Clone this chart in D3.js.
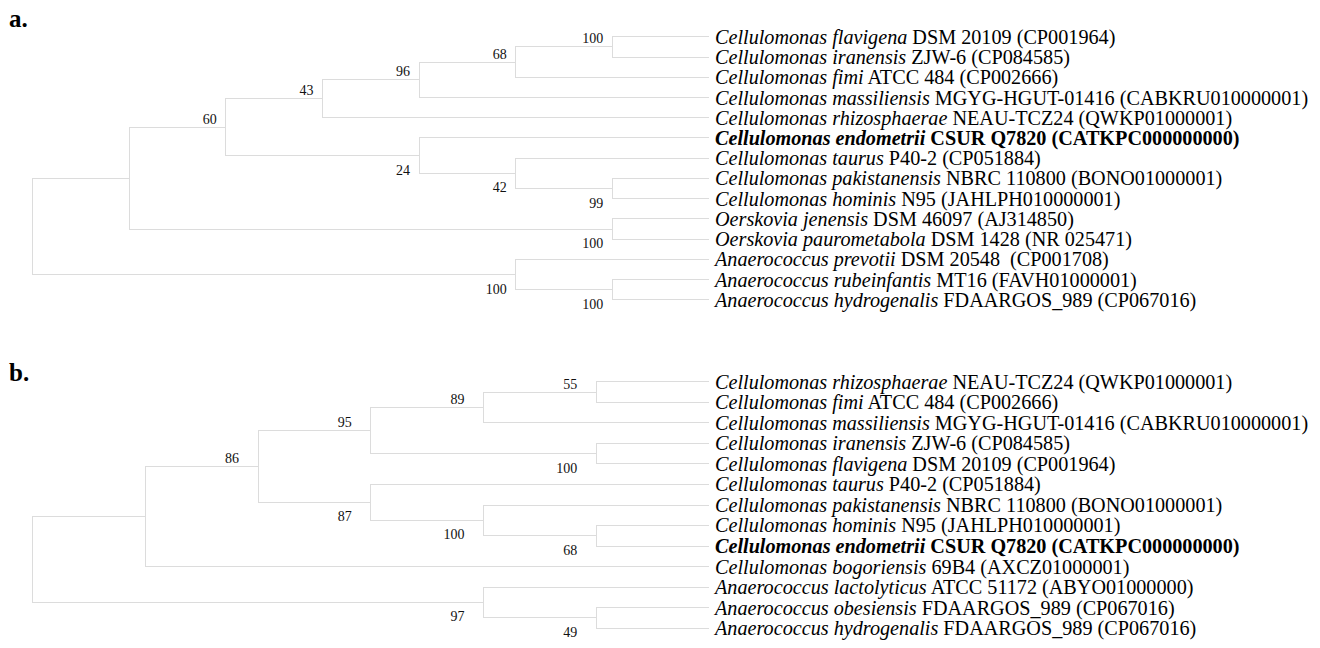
<!DOCTYPE html>
<html>
<head>
  <meta charset="utf-8">
  <script src="https://cdn.jsdelivr.net/npm/d3@7"></script>
  <style>
    body { margin: 0; background: #fff; }
    text { font-family: "Liberation Serif", "Times New Roman", serif; white-space: pre; }
  </style>
</head>
<body>
  <div id="chart"></div>
  <script>

  // topology of each tree as newick, leaves are indices into the label arrays,
  // numbers after ")" are bootstrap values
  var newickA = "(((((((0,1)100,2)68,3)96,4)43,(5,(6,(7,8)99)42)24)60,(9,10)100),(11,(12,13)100)100)"
  var newickB = "((((((0,1)55,2)89,(3,4)100)95,(5,(6,(7,8)68)100)87)86,9),(10,(11,12)49)97)"

  var speciesA = ["Cellulomonas flavigena", "Cellulomonas iranensis", "Cellulomonas fimi",
    "Cellulomonas massiliensis", "Cellulomonas rhizosphaerae", "Cellulomonas endometrii",
    "Cellulomonas taurus", "Cellulomonas pakistanensis", "Cellulomonas hominis",
    "Oerskovia jenensis", "Oerskovia paurometabola", "Anaerococcus prevotii",
    "Anaerococcus rubeinfantis", "Anaerococcus hydrogenalis"]
  var strainsA = [" DSM 20109 (CP001964)", " ZJW-6 (CP084585)", " ATCC 484 (CP002666)",
    " MGYG-HGUT-01416 (CABKRU010000001)", " NEAU-TCZ24 (QWKP01000001)", " CSUR Q7820 (CATKPC000000000)",
    " P40-2 (CP051884)", " NBRC 110800 (BONO01000001)", " N95 (JAHLPH010000001)",
    " DSM 46097 (AJ314850)", " DSM 1428 (NR 025471)", " DSM 20548  (CP001708)",
    " MT16 (FAVH01000001)", " FDAARGOS_989 (CP067016)"]

  var speciesB = ["Cellulomonas rhizosphaerae", "Cellulomonas fimi", "Cellulomonas massiliensis",
    "Cellulomonas iranensis", "Cellulomonas flavigena", "Cellulomonas taurus",
    "Cellulomonas pakistanensis", "Cellulomonas hominis", "Cellulomonas endometrii",
    "Cellulomonas bogoriensis", "Anaerococcus lactolyticus", "Anaerococcus obesiensis",
    "Anaerococcus hydrogenalis"]
  var strainsB = [" NEAU-TCZ24 (QWKP01000001)", " ATCC 484 (CP002666)", " MGYG-HGUT-01416 (CABKRU010000001)",
    " ZJW-6 (CP084585)", " DSM 20109 (CP001964)", " P40-2 (CP051884)",
    " NBRC 110800 (BONO01000001)", " N95 (JAHLPH010000001)", " CSUR Q7820 (CATKPC000000000)",
    " 69B4 (AXCZ01000001)", " ATCC 51172 (ABYO01000000)", " FDAARGOS_989 (CP067016)",
    " FDAARGOS_989 (CP067016)"]

  // the new species is set in bold
  var highlight = "Cellulomonas endometrii"

  var W = 1320, H = 648

  var svg = d3.select("#chart").append("svg")
    .attr("width", W)
    .attr("height", H)

  function parseNewick(s) {
    var i = 0
    function node() {
      var n = {}
      if (s[i] === "(") {
        i++
        n.children = [node()]
        while (s[i] === ",") { i++; n.children.push(node()) }
        i++ // ")"
      }
      var tok = ""
      while (i < s.length && ",()".indexOf(s[i]) < 0) tok += s[i++]
      if (n.children) { if (tok) n.support = tok }
      else n.leaf = +tok
      return n
    }
    return node()
  }

  function drawTree(opt) {
    var root = d3.hierarchy(parseNewick(opt.newick))
    d3.cluster()
      .size([opt.bottom - opt.top, opt.tipX - opt.rootX])
      .separation(function() { return 1 })(root)

    var g = svg.append("g")
      .attr("transform", "translate(" + opt.rootX + "," + opt.top + ")")

    // elbow branches
    g.selectAll("path.branch")
      .data(root.descendants().filter(function(d) { return d.parent }))
      .enter().append("path")
      .attr("class", "branch")
      .attr("d", function(d) {
        return "M" + d.parent.y + "," + d.parent.x + "V" + d.x + "H" + d.y
      })
      .attr("fill", "none")
      .attr("stroke", "#dcdcdc")
      .attr("stroke-width", 1)
      .attr("shape-rendering", "crispEdges")

    // bootstrap values: above the branch for an upper child, below for a lower one
    g.selectAll("text.boot")
      .data(root.descendants().filter(function(d) { return d.data.support }))
      .enter().append("text")
      .attr("class", "boot")
      .attr("x", function(d) { return d.y - opt.bootGap })
      .attr("y", function(d) {
        var upper = d.parent.children[0] === d
        return upper ? d.x - 3.5 : d.x + 19
      })
      .attr("text-anchor", "end")
      .attr("font-size", 14)
      .attr("fill", "#111")
      .text(function(d) { return d.data.support })

    // leaf labels
    var lab = g.selectAll("text.leaf")
      .data(root.leaves())
      .enter().append("text")
      .attr("class", "leaf")
      .attr("x", function(d) { return d.y + 6 })
      .attr("y", function(d) { return d.x + 7 })
      .attr("font-size", 20.2)
      .attr("fill", "#000")
      .attr("font-weight", function(d) { return opt.species[d.data.leaf] === highlight ? "bold" : null })

    lab.append("tspan")
      .attr("font-style", "italic")
      .text(function(d) { return opt.species[d.data.leaf] })
    lab.append("tspan")
      .text(function(d) { return opt.strains[d.data.leaf] })

    svg.append("text")
      .attr("x", 9)
      .attr("y", opt.letterY)
      .attr("font-size", 25)
      .attr("font-weight", "bold")
      .text(opt.letter)
  }

  drawTree({ newick: newickA, species: speciesA, strains: strainsA,
    top: 26.7, bottom: 310, rootX: 32.6, tipX: 709, bootGap: 9, letter: "a.", letterY: 27 })

  drawTree({ newick: newickB, species: speciesB, strains: strainsB,
    top: 371.7, bottom: 638.3, rootX: 32.6, tipX: 709, bootGap: 19, letter: "b.", letterY: 381 })

  </script>
</body>
</html>
